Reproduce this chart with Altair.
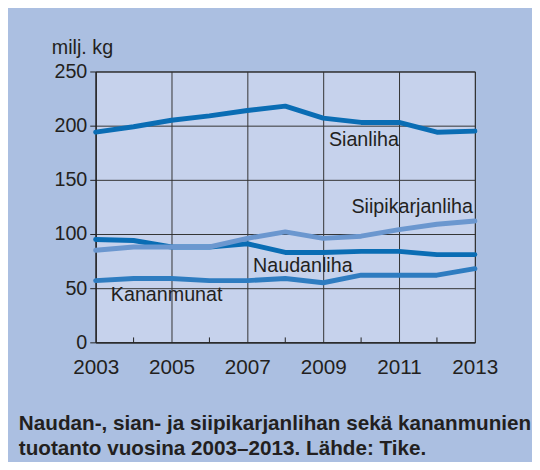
import altair as alt
import pandas as pd

years = list(range(2003, 2014))
sianliha = [194, 199, 205, 209, 214, 218, 207, 203, 203, 194, 195]
naudanliha = [95, 94, 88, 88, 91, 83, 83, 84, 84, 81, 81]
siipikarjanliha = [85, 88, 88, 88, 96, 102, 96, 98, 104, 109, 112]
kananmunat = [57, 59, 59, 57, 57, 59, 55, 62, 62, 62, 68]

series_names = ["Sianliha", "Naudanliha", "Siipikarjanliha", "Kananmunat"]
series_values = [sianliha, naudanliha, siipikarjanliha, kananmunat]
series_colors = ["#0a6db4", "#0a6db4", "#6b97cf", "#2e7cc0"]

label_text = ["Sianliha", "Siipikarjanliha", "Naudanliha", "Kananmunat"]
label_year = [2009.15, 2012.95, 2007.15, 2003.4]
label_value = [187, 125, 70, 44]
label_align = ["left", "right", "left", "left"]

x_label_years = [2003, 2005, 2007, 2009, 2011, 2013]
minor_years = [2004, 2006, 2008, 2010, 2012]
y_ticks = [0, 50, 100, 150, 200, 250]

caption = ["Naudan-, sian- ja siipikarjanlihan sekä kananmunien",
           "tuotanto vuosina 2003–2013. Lähde: Tike."]

FONT = "Liberation Sans, Arial, sans-serif"
TXT = "#231f20"

rows = []
for name, vals in zip(series_names, series_values):
    for y, v in zip(years, vals):
        rows.append({"year": y, "value": v, "series": name})
df = pd.DataFrame(rows)

xscale = alt.Scale(domain=[2003, 2013], nice=False, zero=False)
yscale = alt.Scale(domain=[0, 250], nice=False)

lines = alt.Chart(df).mark_line(strokeWidth=5, strokeCap="round", strokeJoin="round").encode(
    x=alt.X("year:Q", scale=xscale,
            axis=alt.Axis(values=x_label_years, format="d", title=None, grid=True,
                          tickSize=0, labelPadding=15, labelFontSize=21, labelFont=FONT,
                          labelColor=TXT, domainColor="#222", gridColor="#333",
                          labelFlush=False)),
    y=alt.Y("value:Q", scale=yscale,
            axis=alt.Axis(values=y_ticks, title="milj. kg", titleAngle=0, titleX=-45,
                          titleY=-24, titleAlign="left", titleBaseline="middle",
                          titleFont=FONT, titleFontSize=20, titleFontWeight="normal",
                          titleColor=TXT, grid=True, tickSize=6, tickColor="#222",
                          labelPadding=3, labelFontSize=20, labelFont=FONT, labelColor=TXT,
                          domainColor="#222", gridColor="#333")),
    color=alt.Color("series:N", scale=alt.Scale(domain=series_names, range=series_colors),
                    legend=None),
    detail="series:N",
)

minor_df = pd.DataFrame({"year": minor_years})
minor = alt.Chart(minor_df).mark_rule(color="#222", strokeWidth=1).encode(
    x=alt.X("year:Q", scale=xscale),
    y=alt.value(275),
    y2=alt.value(270),
)

lab_df = pd.DataFrame({"text": label_text, "year": label_year, "value": label_value,
                       "align": label_align})
labels_left = alt.Chart(lab_df[lab_df["align"] == "left"]).mark_text(
    align="left", baseline="middle", font=FONT, fontSize=20, color=TXT).encode(
    x=alt.X("year:Q", scale=xscale), y=alt.Y("value:Q", scale=yscale), text="text:N")
labels_right = alt.Chart(lab_df[lab_df["align"] == "right"]).mark_text(
    align="right", baseline="middle", font=FONT, fontSize=20, color=TXT).encode(
    x=alt.X("year:Q", scale=xscale), y=alt.Y("value:Q", scale=yscale), text="text:N")

chart = alt.layer(lines, minor, labels_left, labels_right).properties(
    width=385, height=275,
    autosize=alt.AutoSizeParams(type="none"),
    padding={"left": 89, "top": 61, "right": 58, "bottom": 118},
    background="#abbfe1",
    title=alt.TitleParams(text=caption, orient="bottom", anchor="start", frame="group",
                          dx=-78, offset=36, font=FONT, fontSize=21, fontWeight="bold",
                          color=TXT, lineHeight=25),
).configure_view(fill="#c6d2ec", stroke="#222", strokeWidth=1)

chart.save("out.html", embed_options={"renderer": "svg", "actions": False})
